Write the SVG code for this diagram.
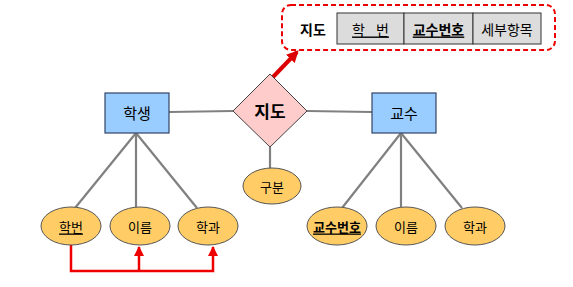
<svg xmlns="http://www.w3.org/2000/svg" width="573" height="287" viewBox="0 0 573 287">
<defs>
<style>
text{font-family:"Noto Sans CJK KR","Noto Sans",sans-serif;text-anchor:middle;dominant-baseline:central;fill:#000}
.ent{fill:#99ccff;stroke:#334466;stroke-width:1.2}
.rel{fill:#ffcccc;stroke:#444;stroke-width:1}
.att{fill:#ffcc66;stroke:#555;stroke-width:1}
.ln{stroke:#808080;stroke-width:2.2;fill:none}
.red{stroke:#ee0000;stroke-width:2.5;fill:none}
.cell{fill:#dcdcdc;stroke:#333;stroke-width:1}
.t13{font-size:13px}
.t14{font-size:14px}
.t15{font-size:15px}
.u{text-decoration:underline}
</style>
<marker id="ah" viewBox="0 0 10 10" refX="9" refY="5" markerWidth="4" markerHeight="4" orient="auto" markerUnits="strokeWidth">
<path d="M0,0 L10,5 L0,10 z" fill="#ee0000"/>
</marker>
<marker id="ah2" viewBox="0 0 10 10" refX="8" refY="5" markerWidth="3" markerHeight="3" orient="auto" markerUnits="strokeWidth">
<path d="M0,0 L10,5 L0,10 z" fill="#dd0000"/>
</marker>
</defs>
<rect width="573" height="287" fill="#fff"/>
<g id="connectors">
<line class="ln" x1="169" y1="112" x2="233" y2="111"/>
<line class="ln" x1="307" y1="111" x2="372" y2="112"/>
<line class="ln" x1="270" y1="147" x2="270" y2="168"/>
<line class="ln" x1="136" y1="133" x2="75" y2="208"/>
<line class="ln" x1="136" y1="133" x2="136" y2="207"/>
<line class="ln" x1="136" y1="133" x2="197" y2="208"/>
<line class="ln" x1="401" y1="133" x2="342" y2="208"/>
<line class="ln" x1="401" y1="133" x2="401" y2="207"/>
<line class="ln" x1="401" y1="133" x2="462" y2="208"/>
<polyline class="red" points="71,245 71,271 213,271 213,247" marker-end="url(#ah)"/>
<polyline class="red" points="139,271 139,247" marker-end="url(#ah)"/>
<line x1="273" y1="77" x2="297" y2="52" stroke="#dd0000" stroke-width="4" marker-end="url(#ah2)"/>
</g>
<g id="table">
<rect x="282" y="5" width="273" height="45" rx="9" fill="none" stroke="#ee0000" stroke-width="2" stroke-dasharray="5,3"/>
<text x="313" y="29" class="t14" font-weight="bold">지도</text>
<rect class="cell" x="337" y="13" width="67" height="31"/>
<rect class="cell" x="404" y="13" width="69" height="31"/>
<rect class="cell" x="473" y="13" width="68" height="31"/>
<text x="370.5" y="28.5" class="t14 u" word-spacing="8">학 번</text>
<text x="438.5" y="28.5" class="t14 u" font-weight="bold">교수번호</text>
<text x="507" y="28.5" class="t14">세부항목</text>
</g>
<g id="student">
<rect class="ent" x="105" y="93" width="64" height="40"/>
<text x="137" y="112" class="t15">학생</text>
</g>
<g id="professor">
<rect class="ent" x="372" y="93" width="64" height="40"/>
<text x="404" y="112" class="t15">교수</text>
</g>
<g id="advise">
<polygon class="rel" points="233,111 270,74 307,111 270,147"/>
<text x="270" y="110" font-size="17" font-weight="bold">지도</text>
</g>
<g id="gubun">
<ellipse class="att" cx="272" cy="186" rx="29" ry="18"/>
<text x="272" y="186" class="t13">구분</text>
</g>
<g id="s_hakbun">
<ellipse class="att" cx="71" cy="226" rx="30" ry="19"/>
<text x="71" y="226" class="t13 u">학번</text>
</g>
<g id="s_name">
<ellipse class="att" cx="140" cy="226" rx="30" ry="19"/>
<text x="140" y="226" class="t13">이름</text>
</g>
<g id="s_dept">
<ellipse class="att" cx="208" cy="226" rx="30" ry="19"/>
<text x="208" y="226" class="t13">학과</text>
</g>
<g id="p_id">
<ellipse class="att" cx="337" cy="226" rx="30" ry="19"/>
<text x="337" y="226" class="t13 u" font-weight="bold">교수번호</text>
</g>
<g id="p_name">
<ellipse class="att" cx="406" cy="226" rx="30" ry="19"/>
<text x="406" y="226" class="t13">이름</text>
</g>
<g id="p_dept">
<ellipse class="att" cx="475" cy="226" rx="30" ry="19"/>
<text x="475" y="226" class="t13">학과</text>
</g>
</svg>
